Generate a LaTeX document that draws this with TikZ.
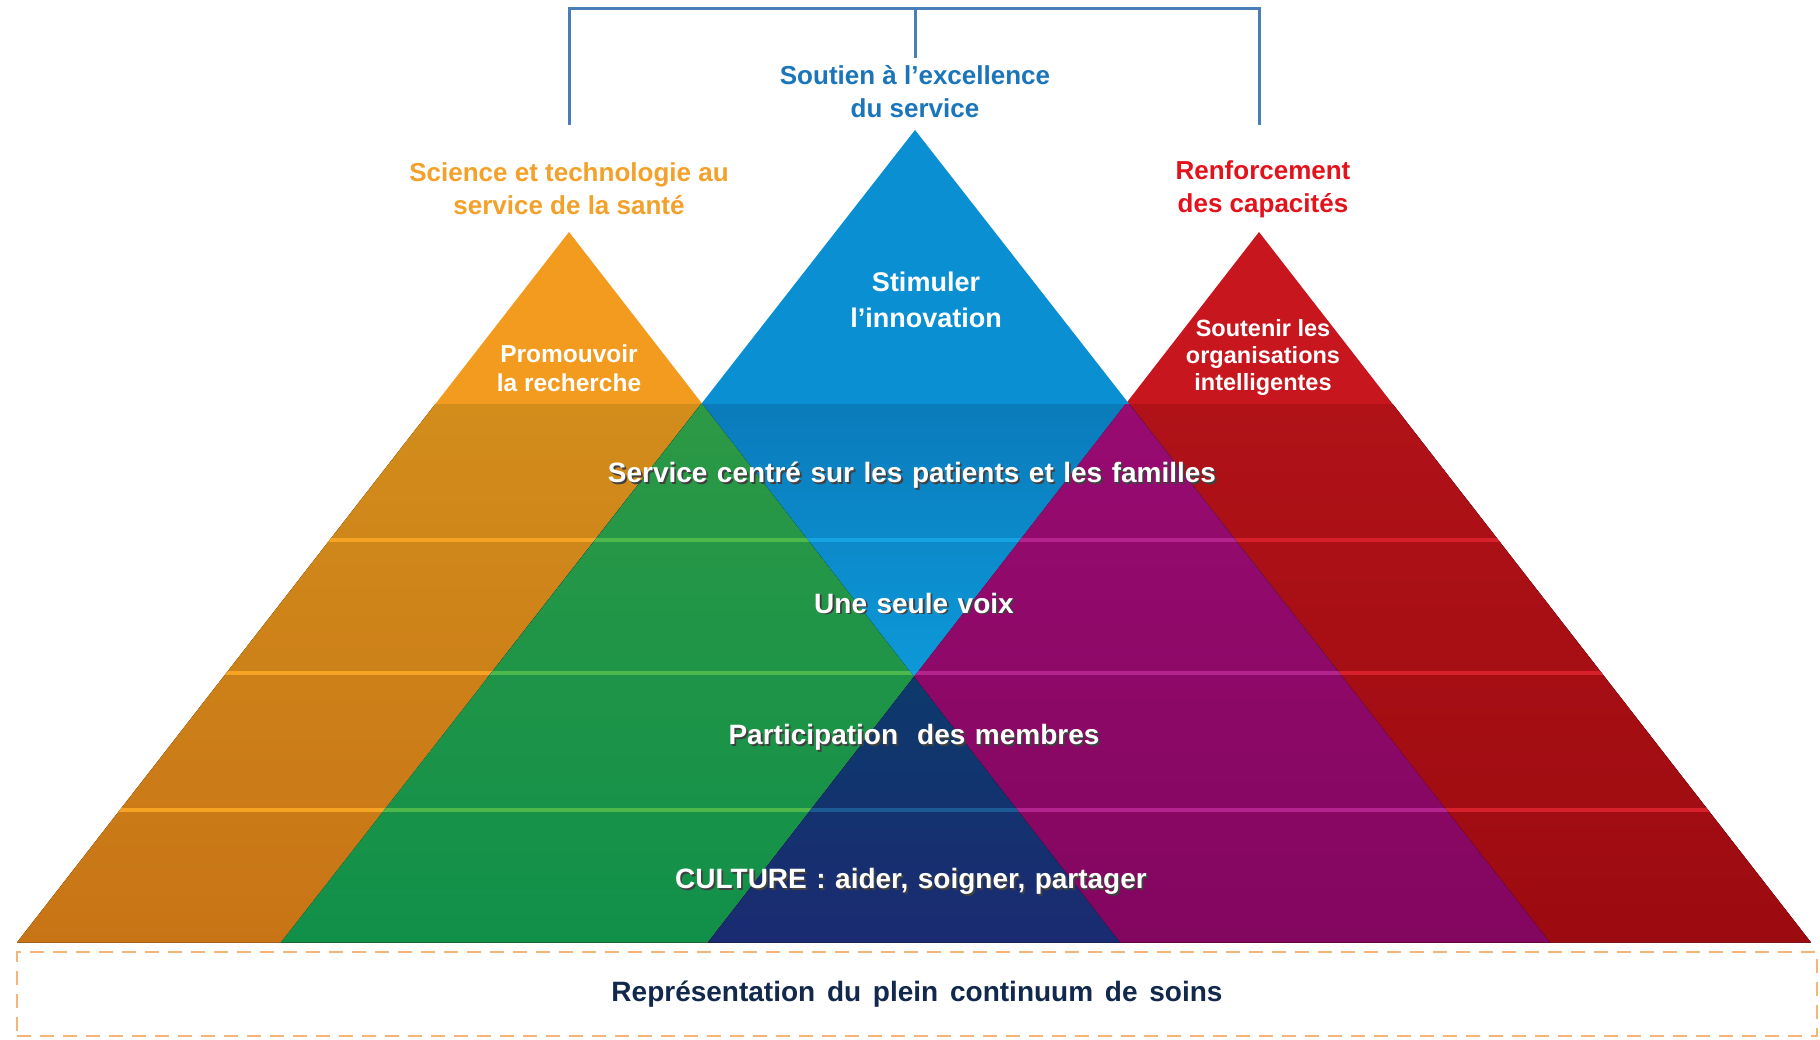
\documentclass[tikz,border=0pt]{standalone}
\usepackage{fontspec}
\setmainfont{Liberation Sans}
\usetikzlibrary{calc}
\definecolor{orTop}{HTML}{F39B1E}
\definecolor{blTop}{HTML}{0A8FD3}
\definecolor{rdTop}{HTML}{C8161E}
\definecolor{orLoT}{HTML}{D28D1B}
\definecolor{orLoB}{HTML}{C87416}
\definecolor{rdLoT}{HTML}{B01218}
\definecolor{rdLoB}{HTML}{9C0B10}
\definecolor{blLoT}{HTML}{0A7BBB}
\definecolor{blLoB}{HTML}{0D99D9}
\definecolor{grT}{HTML}{2C9945}
\definecolor{grM}{HTML}{52A03B}
\definecolor{grB}{HTML}{11904A}
\definecolor{puT}{HTML}{980B71}
\definecolor{puB}{HTML}{83065F}
\definecolor{nvT}{HTML}{0C3A6C}
\definecolor{nvM}{HTML}{0F4C82}
\definecolor{nvB}{HTML}{1B2B71}
\definecolor{orLine}{HTML}{F7A424}
\definecolor{grLine}{HTML}{4DB94C}
\definecolor{blLine}{HTML}{16A3E2}
\definecolor{puLine}{HTML}{B4248F}
\definecolor{rdLine}{HTML}{D8202A}
\definecolor{nvLine}{HTML}{1B5A93}
\definecolor{brk}{HTML}{4A7EBB}
\definecolor{tBlue}{HTML}{1B75BB}
\definecolor{tOrange}{HTML}{F3A12A}
\definecolor{tRed}{HTML}{E3121B}
\definecolor{tNavy}{HTML}{12294D}
\definecolor{dashCol}{HTML}{F5B478}
\newcommand\shd[1]{\leavevmode\rlap{\kern1.8pt\raisebox{-1.8pt}{\textcolor{black!75}{#1}}}#1}
\newcommand\wideA{\spaceskip=0.34em plus 0.1em\relax}
\newcommand\wideB{\spaceskip=0.42em plus 0.1em\relax}
\newcommand\bands[1]{\foreach \yy in {540,673,810} {\draw[line width=4.5pt,#1] (0,\yy) -- (1820,\yy);}}
\tikzset{
  ttl/.style={font=\bfseries\fontsize{26}{33}\selectfont, align=center, inner sep=0pt},
  inlab/.style={text=white, align=center, inner sep=0pt},
  bandlab/.style={text=white, font=\bfseries\fontsize{28}{34}\selectfont, inner sep=0pt},
  bracket/.style={draw=brk, line width=3pt},
  contbox/.style={draw=dashCol, line width=1.8pt, dash pattern=on 14pt off 9pt, minimum width=1800pt, minimum height=84pt, inner sep=0pt,
     text=tNavy, font=\bfseries\fontsize{28}{34}\selectfont}
}
\begin{document}
\begin{tikzpicture}[x=1pt,y=-1pt]
\useasboundingbox (0,0) rectangle (1820,1040);
\fill[white] (0,0) rectangle (1820,1040);
% triangle corners
\coordinate (Oa) at (569,232); \coordinate (Ol) at (17,942.5); \coordinate (Or) at (1120,942.5);
\coordinate (Ba) at (915,130); \coordinate (Bl) at (281,942.5); \coordinate (Br) at (1550,942.5);
\coordinate (Ra) at (1259,232); \coordinate (Rl) at (708,942.5); \coordinate (Rr) at (1811,942.5);
\coordinate (Na) at (intersection of Oa--Or and Ra--Rl);
% bright tops
\fill[orTop] (Oa) -- (Ol) -- (Or) -- cycle;
\fill[rdTop] (Ra) -- (Rl) -- (Rr) -- cycle;
\fill[blTop] (Ba) -- (Bl) -- (Br) -- cycle;
% lower parts
\begin{scope}
  \clip (0,404) rectangle (1820,943);
  \begin{scope}
    \clip (Oa) -- (Ol) -- (Or) -- cycle;
    \fill[top color=orLoT, bottom color=orLoB] (0,404) rectangle (1820,943);
    \bands{orLine}
  \end{scope}
  \begin{scope}
    \clip (Ra) -- (Rl) -- (Rr) -- cycle;
    \fill[top color=rdLoT, bottom color=rdLoB] (0,404) rectangle (1820,943);
    \bands{rdLine}
  \end{scope}
  \begin{scope}
    \clip (Ba) -- (Bl) -- (Br) -- cycle;
    \fill[top color=blLoT, bottom color=blLoB] (281,404) rectangle (1550,680);
    \bands{blLine}
  \end{scope}
  \begin{scope}
    \clip (Ba) -- (Bl) -- (Br) -- cycle;
    \clip (Oa) -- (Ol) -- (Or) -- cycle;
    \fill[top color=grT, middle color=grM, bottom color=grB] (0,404) rectangle (1820,943);
    \bands{grLine}
  \end{scope}
  \begin{scope}
    \clip (Ba) -- (Bl) -- (Br) -- cycle;
    \clip (Ra) -- (Rl) -- (Rr) -- cycle;
    \fill[top color=puT, bottom color=puB] (0,404) rectangle (1820,943);
    \bands{puLine}
  \end{scope}
  \begin{scope}
    \clip (Na) -- (Rl) -- (Or) -- cycle;
    \fill[top color=nvT, middle color=nvM, bottom color=nvB] (0,676) rectangle (1820,943);
    \bands{nvLine}
  \end{scope}
\end{scope}
% bracket
\coordinate (bl) at (569,125);
\coordinate (br) at (1259,125);
\coordinate (btop) at (915,9);
\coordinate (bc) at (915,58);
\draw[bracket] (bl) -- (bl |- btop) -- (br |- btop) -- (br);
\draw[bracket] (btop) -- (bc);
% titles
\node[ttl, text=tBlue] (tb) at (915,92) {Soutien à l’excellence\\du service};
\node[ttl, text=tOrange] (to) at (569,189) {Science et technologie au\\service de la santé};
\node[ttl, text=tRed] (tr) at (1263,189) {Renforcement\\des capacités};
% inner labels
\node[inlab, font=\bfseries\fontsize{27}{36}\selectfont] (ib) at (926,300) {Stimuler\\l’innovation};
\node[inlab, font=\bfseries\fontsize{24.5}{29}\selectfont] (io) at (569,368) {Promouvoir\\la recherche};
\node[inlab, font=\bfseries\fontsize{23.5}{27}\selectfont] (ir) at (1263,357) {Soutenir les\\organisations\\intelligentes};
% band labels
\node[bandlab] (l1) at (912,476) {\wideA\shd{Service centré sur les patients et les familles}};
\node[bandlab] (l2) at (914,604) {\wideA\shd{Une seule voix}};
\node[bandlab] (l3) at (914,738) {\wideA\shd{Participation\ \ des membres}};
\node[bandlab] (l4) at (911,882) {\wideA\shd{CULTURE : aider, soigner, partager}};
% continuum box
\node[contbox] (cont) at (917,994) {\wideB Représentation du plein continuum de soins};
\end{tikzpicture}
\end{document}
